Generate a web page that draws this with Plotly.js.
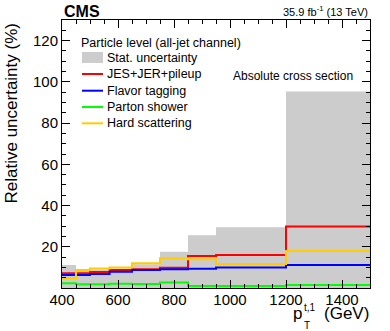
<!DOCTYPE html>
<html>
<head>
<meta charset="utf-8">
<script src="https://cdn.plot.ly/plotly-3.0.1.min.js"></script>
<style>
  html, body { margin: 0; padding: 0; background: #fff; }
  #plot { width: 390px; height: 331px; }
</style>
</head>
<body>
<div id="plot"></div>
<script>
// bin edges in GeV
const binEdges = [400, 450, 500, 570, 650, 750, 850, 950, 1200, 1500];

// relative uncertainties (%) per bin
const statUnc      = [11.2, 8.5, 9.0, 9.5, 11.5, 17.6, 25.6, 29.5, 95.3];
const jesJerPileup = [7.1, 7.1, 7.8, 8.7, 9.1, 9.8, 15.5, 16.0, 29.8];
const flavorTag    = [6.3, 6.3, 6.8, 7.9, 8.7, 9.1, 9.3, 9.9, 11.2];
const partonShower = [2.3, 1.8, 1.8, 2.1, 1.9, 2.7, 1.0, 1.0, 1.4];
const hardScatter  = [4.7, 8.7, 9.5, 10.0, 12.0, 14.4, 13.9, 11.7, 18.0];

const seriesNames = ['Stat. uncertainty', 'JES+JER+pileup', 'Flavor tagging', 'Parton shower', 'Hard scattering'];

// step helper: repeat last value so the 'hv' line reaches the last edge
function stepY(vals) {
    return vals.concat([vals[vals.length - 1]]);
}

let font = 'Liberation Sans, Arial, sans-serif';

// plot area in pixels (margins below), used to place the hand-made legend
const M = {l: 62, r: 20, t: 20, b: 43};
const W = 390, H = 331;
const pw = W - M.l - M.r, ph = H - M.t - M.b;
function px2x(px) { return (px - M.l) / pw; }
function px2y(py) { return (H - M.b - py) / ph; }

let traceStat = {
    x: binEdges,
    y: stepY(statUnc),
    name: seriesNames[0],
    type: 'scatter',
    mode: 'lines',
    line: {shape: 'hv', width: 0, color: '#cccccc'},
    fill: 'tozeroy',
    fillcolor: '#cccccc'
};

function stepTrace(vals, name, color) {
    return {
        x: binEdges,
        y: stepY(vals),
        name: name,
        type: 'scatter',
        mode: 'lines',
        line: {shape: 'hv', width: 2, color: color}
    };
}

let plots = [
    traceStat,
    stepTrace(jesJerPileup, seriesNames[1], '#ff0000'),
    stepTrace(flavorTag, seriesNames[2], '#0000ff'),
    stepTrace(partonShower, seriesNames[3], '#00ff00'),
    stepTrace(hardScatter, seriesNames[4], '#ffcc00')
];

// legend drawn by hand (ROOT-like tight spacing)
let shapes = [];
let annotations = [];
let legendRows = [57.5, 74, 90.7, 107, 123.3];
annotations.push({text: 'Particle level (all-jet channel)', xref: 'paper', yref: 'paper',
    x: px2x(79), y: px2y(43), xanchor: 'left', yanchor: 'middle', showarrow: false,
    font: {family: font, size: 12.5}});
plots.forEach(function(tr, i) {
    let yc = legendRows[i];
    if (tr.fill) {
        shapes.push({type: 'rect', xref: 'paper', yref: 'paper',
            x0: px2x(82), x1: px2x(103), y0: px2y(yc + 5.5), y1: px2y(yc - 5.5),
            fillcolor: tr.fillcolor, line: {width: 0}});
    } else {
        shapes.push({type: 'line', xref: 'paper', yref: 'paper',
            x0: px2x(82), x1: px2x(103), y0: px2y(yc), y1: px2y(yc),
            line: {color: tr.line.color, width: 2}});
    }
    annotations.push({text: tr.name, xref: 'paper', yref: 'paper',
        x: px2x(105), y: px2y(yc), xanchor: 'left', yanchor: 'middle', showarrow: false,
        font: {family: font, size: 12.5}});
});

annotations.push(
    {text: '<b>CMS</b>', xref: 'paper', yref: 'paper', x: 0, y: 1, xanchor: 'left', yanchor: 'bottom',
     yshift: -2, showarrow: false, font: {family: font, size: 16}},
    {text: '35.9 fb<sup>-1</sup> (13 TeV)', xref: 'paper', yref: 'paper', x: 1, y: 1, xanchor: 'right', yanchor: 'bottom',
     showarrow: false, font: {family: font, size: 11}},
    {text: 'Absolute cross section', xref: 'paper', yref: 'paper', x: 0.95, y: 0.79, xanchor: 'right', yanchor: 'middle',
     showarrow: false, font: {family: font, size: 12}},
    {text: 'Relative uncertainty (%)', xref: 'paper', yref: 'paper', x: 0, y: 1, xanchor: 'right', yanchor: 'top',
     textangle: -90, xshift: -40, yshift: -2, showarrow: false, font: {family: font, size: 17}},
    {text: 'p', xref: 'paper', yref: 'paper', x: px2x(303), y: px2y(313), xanchor: 'right', yanchor: 'middle',
     showarrow: false, borderpad: 0, font: {family: font, size: 17}},
    {text: 't,1', xref: 'paper', yref: 'paper', x: px2x(303), y: px2y(307), xanchor: 'left', yanchor: 'middle',
     showarrow: false, borderpad: 0, font: {family: font, size: 10}},
    {text: 'T', xref: 'paper', yref: 'paper', x: px2x(303), y: px2y(325), xanchor: 'left', yanchor: 'middle',
     showarrow: false, borderpad: 0, font: {family: font, size: 10}},
    {text: '(GeV)', xref: 'paper', yref: 'paper', x: 1, y: px2y(313), xanchor: 'right', yanchor: 'middle',
     showarrow: false, borderpad: 0, font: {family: font, size: 17}}
);

let layout = {
    width: W,
    height: H,
    margin: M,
    paper_bgcolor: '#fff',
    plot_bgcolor: '#fff',
    font: {family: font, size: 14, color: '#000'},
    showlegend: false,
    xaxis: {
        range: [400, 1500],
        tick0: 400, dtick: 200,
        ticks: 'inside', ticklen: 8, tickcolor: '#000',
        showline: true, linecolor: '#000', linewidth: 1, mirror: 'allticks',
        showgrid: false, zeroline: false,
        ticklabelstandoff: -2,
        tickfont: {family: font, size: 15},
        minor: {dtick: 50, ticks: 'inside', ticklen: 4, tickcolor: '#000', showgrid: false}
    },
    yaxis: {
        range: [0, 130],
        ticks: 'inside', ticklen: 8, tickcolor: '#000',
        showline: true, linecolor: '#000', linewidth: 1, mirror: 'allticks',
        showgrid: false, zeroline: false,
        tickfont: {family: font, size: 15},
        minor: {dtick: 5, ticks: 'inside', ticklen: 4, tickcolor: '#000', showgrid: false},
        tickvals: [20, 40, 60, 80, 100, 120]
    },
    shapes: shapes,
    annotations: annotations
};

Plotly.newPlot('plot', plots, layout, {displayModeBar: false, staticPlot: true});
</script>
</body>
</html>
